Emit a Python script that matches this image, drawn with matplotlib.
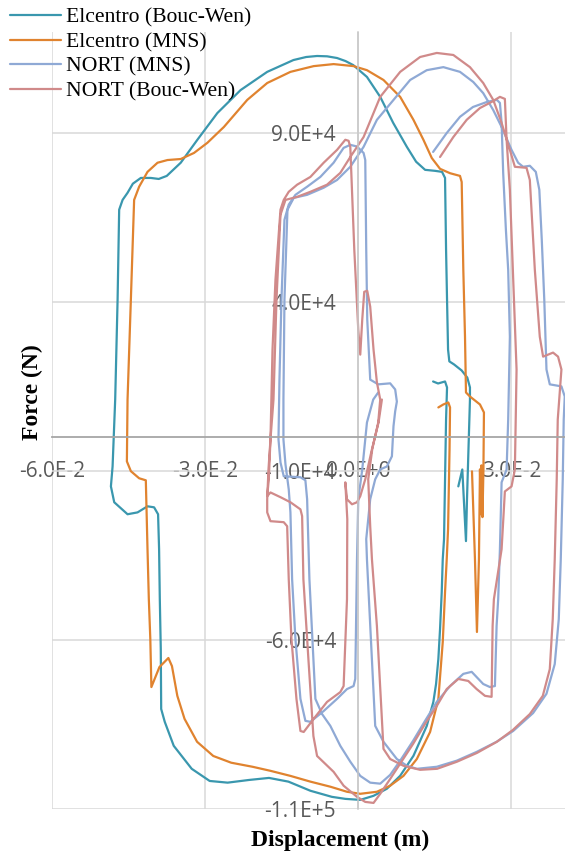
import numpy as np
import matplotlib.pyplot as plt

# hysteresis loops, displacement in mm and force in kN (converted when plotted)
elcentro_bw = [
    (14.66, 16.55), (15.63, 15.96), (17.0, 16.55), (17.39, 14.78), (17.2, 5.32),
    (17.0, -12.41), (16.8, -30.14), (16.55, -36.05), (16.35, -45.8), (16.02, -56.74),
    (15.69, -65.6), (15.24, -72.99), (14.71, -78.31), (13.42, -85.4), (10.81, -94.26),
    (8.21, -100.17), (5.61, -104.0), (2.99, -106.1), (0.39, -107.3), (-2.54, -107.0),
    (-5.18, -106.4), (-9.38, -104.6), (-13.68, -101.9), (-17.49, -100.8), (-21.38, -101.4),
    (-25.6, -102.2), (-29.11, -101.7), (-32.63, -98.1), (-36.15, -91.3), (-37.91, -84.2),
    (-38.61, -80.4), (-38.69, -62.6), (-38.88, -47.9), (-39.02, -33.1), (-39.22, -22.75),
    (-40.0, -20.7), (-41.29, -20.4), (-43.24, -22.2), (-45.2, -22.75), (-47.81, -19.2),
    (-48.46, -14.5), (-48.13, -8.57), (-47.62, 11.23), (-47.15, 40.8), (-46.84, 67.4),
    (-46.17, 70.3), (-45.2, 72.4), (-44.16, 75.1), (-42.6, 76.8), (-40.64, 76.8),
    (-39.08, 76.5), (-37.52, 77.4), (-34.78, 81.3), (-31.52, 88.1), (-27.61, 96.0),
    (-23.06, 102.8), (-17.84, 108.2), (-12.7, 111.7), (-10.2, 112.6), (-8.07, 112.9),
    (-6.1, 112.8), (-4.16, 112.3), (-2.5, 111.4), (-0.98, 110.2), (1.7, 106.7),
    (4.3, 100.8), (6.84, 93.1), (9.52, 86.0), (11.33, 81.6), (13.09, 79.2),
    (15.05, 78.9), (16.41, 78.6), (17.0, 76.8), (17.2, 55.6), (17.39, 40.8),
    (17.59, 26.0), (17.84, 22.5), (18.76, 21.6), (20.26, 19.8), (21.36, 17.7),
    (21.88, 14.8), (21.88, 11.2), (21.59, -3.5), (21.3, -18.3), (21.1, -30.7),
    (20.38, -9.5), (19.6, -14.5),
]

elcentro_mns = [
    (15.69, 8.87), (16.67, 9.75), (17.64, 10.34), (17.98, 8.87), (17.88, -3.55),
    (17.59, -27.19), (17.33, -36.05), (17.0, -45.8), (16.55, -60.6), (15.69, -77.4),
    (14.07, -87.2), (11.47, -95.2), (8.85, -100.2), (6.25, -103.1), (3.65, -104.9),
    (0.39, -105.5), (-2.21, -104.9), (-5.47, -103.4), (-9.38, -101.9), (-13.29, -100.2),
    (-17.2, -98.7), (-20.71, -97.5), (-24.89, -96.3), (-28.41, -94.3), (-31.58, -90.1),
    (-34.04, -83.3), (-35.45, -76.5), (-36.5, -67.7), (-37.2, -65.3), (-38.96, -68.0),
    (-40.53, -73.9), (-40.74, -59.7), (-41.03, -47.9), (-41.29, -33.1), (-41.62, -12.7),
    (-42.93, -12.1), (-44.55, -10.0), (-45.33, -7.1), (-45.2, 11.2), (-44.55, 40.8),
    (-43.91, 70.3), (-42.93, 74.2), (-41.29, 78.6), (-39.33, 81.3), (-37.38, 82.1),
    (-34.78, 82.4), (-32.18, 84.2), (-29.56, 87.2), (-26.32, 91.9), (-21.75, 99.9),
    (-17.84, 104.9), (-13.29, 108.2), (-8.73, 109.9), (-4.83, 110.5), (-0.92, 109.9),
    (1.7, 108.7), (4.94, 105.8), (8.21, 100.8), (10.81, 94.0), (12.76, 88.1),
    (14.4, 82.7), (16.02, 79.5), (17.98, 78.2), (19.93, 77.4), (20.26, 75.6),
    (20.58, 49.6), (20.91, 29.8), (21.1, 13.3), (21.88, 12.1), (23.84, 9.75),
    (24.62, 7.39), (24.52, -9.46), (24.33, -23.6), (24.13, -8.27), (24.03, -22.75),
    (23.84, -9.46), (23.64, -36.05), (23.25, -57.6), (22.86, -36.05), (22.28, -10.05),
]

nort_mns = [
    (14.66, 84.5), (17.33, 90.1), (19.93, 94.9), (22.47, 97.8), (25.21, 99.3),
    (27.16, 99.9), (27.75, 99.0), (28.08, 93.1), (28.39, 78.3), (28.92, 61.5),
    (29.37, 49.6), (29.7, 29.8), (29.37, 5.3), (29.06, -9.5), (28.08, -13.3),
    (27.75, -33.1), (27.41, -47.9), (27.1, -55.8), (26.77, -73.6), (25.79, -73.9),
    (24.48, -73.0), (22.22, -69.4), (20.58, -70.0), (17.98, -73.6), (15.38, -78.3),
    (13.09, -83.9), (10.75, -89.8), (8.21, -95.7), (6.25, -99.9), (4.3, -102.5),
    (2.34, -102.2), (0.39, -100.2), (-1.56, -96.0), (-3.52, -91.3), (-5.47, -85.4),
    (-7.09, -81.9), (-8.4, -77.4), (-8.99, -59.7), (-9.57, -42.0), (-10.02, -18.3),
    (-10.36, -12.7), (-11.33, -11.8), (-14.6, -11.5), (-15.24, -7.4), (-15.63, -0.6),
    (-15.44, 17.1), (-15.05, 40.8), (-14.46, 64.4), (-13.62, 68.9), (-12.31, 71.8),
    (-10.02, 74.2), (-7.43, 77.1), (-4.83, 81.3), (-2.87, 85.7), (-1.56, 86.6),
    (-0.25, 86.1), (1.04, 84.2), (1.37, 82.1), (1.56, 55.6), (1.76, 34.9),
    (2.34, 17.1), (3.91, 15.7), (6.25, 16.0), (7.23, 14.2), (7.56, 10.6),
    (7.23, 7.7), (6.9, 3.3), (6.59, -5.6), (5.61, -8.6), (4.3, -9.5),
    (3.32, -12.4), (2.34, -18.3), (1.56, -30.1), (1.7, -36.1), (2.34, -55.8),
    (3.32, -85.4), (4.94, -90.1), (7.56, -95.2), (9.52, -97.2), (11.47, -98.1),
    (15.38, -97.5), (19.29, -95.7), (23.19, -93.1), (27.1, -90.1), (30.35, -86.9),
    (34.25, -81.6), (36.87, -75.9), (38.49, -67.1), (39.28, -53.8), (39.67, -36.1),
    (40.06, -12.4), (40.25, 5.3), (40.45, 12.1), (39.8, 15.1), (37.52, 15.7),
    (36.87, 20.1), (36.44, 40.8), (35.95, 58.5), (35.47, 73.3), (34.78, 78.6),
    (33.61, 80.4), (32.3, 80.1), (31.32, 81.3), (30.03, 85.1), (28.08, 91.9),
    (26.44, 96.9), (24.48, 101.9), (22.53, 105.2), (19.93, 108.2), (16.67, 109.6),
    (13.42, 108.7), (10.16, 105.8), (6.9, 99.9), (3.65, 94.0), (1.04, 86.0),
    (-1.56, 80.1), (-4.16, 76.2), (-6.78, 73.9), (-10.02, 71.8), (-12.64, 70.9),
    (-13.87, 67.4), (-14.46, 40.8), (-14.66, 11.2), (-14.66, -0.6), (-14.26, -8.0),
    (-13.62, -15.4), (-13.29, -22.2), (-12.96, -42.0), (-12.31, -59.7), (-11.33, -77.4),
    (-10.36, -83.9), (-9.38, -84.2), (-6.78, -81.0), (-4.16, -77.4), (-2.21, -74.5),
    (-0.92, -73.6), (-0.59, -71.5), (-0.25, -36.1), (0.0, -18.3), (0.78, -9.5),
    (1.7, 4.4), (2.93, 11.2), (3.91, 13.3),
]

nort_bw = [
    (16.02, 83.0), (18.62, 88.9), (21.24, 94.0), (23.84, 97.5), (26.12, 99.3),
    (27.75, 100.8), (28.72, 100.2), (29.06, 88.1), (29.7, 73.3), (30.35, 46.7),
    (31.01, 20.1), (30.68, -9.5), (30.03, -14.5), (28.72, -16.0), (28.08, -33.1),
    (26.57, -47.9), (26.32, -55.8), (26.12, -76.8), (24.82, -76.5), (23.19, -74.5),
    (21.55, -72.1), (19.6, -71.5), (17.33, -74.5), (15.38, -79.5), (13.09, -84.8),
    (10.75, -90.7), (8.21, -96.6), (6.25, -101.1), (4.3, -105.5), (2.99, -108.2),
    (1.37, -107.9), (-0.25, -106.4), (-2.87, -103.1), (-4.83, -99.0), (-8.07, -94.3),
    (-8.79, -88.4), (-9.77, -65.6), (-10.75, -42.0), (-11.0, -23.3), (-11.33, -21.3),
    (-13.29, -19.2), (-15.24, -17.7), (-17.2, -16.3), (-17.84, -17.4), (-17.53, -12.4),
    (-17.2, -0.6), (-16.8, 26.0), (-16.22, 46.7), (-15.24, 67.4), (-14.6, 70.3),
    (-13.62, 72.7), (-11.98, 74.8), (-9.38, 77.1), (-6.78, 81.3), (-4.16, 85.1),
    (-2.54, 88.1), (-1.9, 87.8), (-1.56, 86.0), (-0.78, 55.6), (0.0, 31.9),
    (0.39, 24.5), (0.78, 34.9), (1.17, 43.1), (1.76, 43.4), (2.34, 38.7),
    (2.99, 26.0), (3.65, 16.3), (4.3, 11.2), (3.91, 4.4), (2.74, -3.5),
    (1.95, -12.4), (2.34, -26.3), (2.68, -36.1), (3.65, -55.8), (4.94, -92.2),
    (6.25, -95.2), (8.85, -97.2), (12.11, -98.4), (15.44, -98.1), (19.34, -96.0),
    (23.25, -93.4), (27.16, -90.1), (30.29, -86.6), (33.61, -81.9), (36.15, -76.5),
    (37.52, -68.6), (38.1, -53.8), (38.49, -36.1), (38.88, -12.4), (39.08, 5.3),
    (39.8, 20.1), (39.14, 23.9), (38.16, 25.1), (36.21, 23.9), (35.56, 29.8),
    (34.59, 49.6), (33.61, 76.2), (32.96, 79.8), (30.68, 80.1), (29.7, 85.1),
    (28.08, 93.1), (26.44, 99.9), (24.48, 104.9), (21.88, 109.6), (18.62, 113.2),
    (15.38, 113.8), (12.11, 112.6), (8.21, 108.2), (4.3, 100.8), (1.04, 88.9),
    (-1.56, 83.0), (-3.52, 78.3), (-6.12, 74.8), (-9.38, 72.7), (-11.98, 71.2),
    (-14.26, 70.3), (-15.24, 65.9), (-16.02, 40.8), (-16.61, 11.2), (-17.2, -0.6),
    (-17.59, -9.5), (-17.84, -18.3), (-17.84, -22.2), (-17.2, -24.8), (-14.6, -25.1),
    (-13.93, -26.3), (-13.62, -42.0), (-13.09, -59.7), (-12.11, -77.4), (-11.33, -86.9),
    (-10.69, -87.2), (-8.73, -83.3), (-6.12, -78.3), (-3.52, -75.4), (-2.87, -73.6),
    (-2.21, -47.9), (-2.15, -24.2), (-2.54, -13.3), (-2.21, -18.3), (-1.23, -19.8),
    (-0.25, -19.2), (0.39, -17.4), (1.37, -12.4), (2.68, -3.5), (3.97, 4.4),
    (4.63, 11.2),
]

series = [
    ('Elcentro (Bouc-Wen)', elcentro_bw, '#3A97AE'),
    ('Elcentro (MNS)', elcentro_mns, '#E0832F'),
    ('NORT (MNS)', nort_mns, '#8FA9D5'),
    ('NORT (Bouc-Wen)', nort_bw, '#D08A8A'),
]

x_ticks = [-0.06, -0.03, 0.0, 0.03]
y_ticks = [-110000, -60000, -10000, 40000, 90000]


def excel_sci(v, pos=None):
    mant, exp = f'{v:.1E}'.split('E')
    return f'{mant}E{exp[0]}{int(exp[1:])}'


fig = plt.figure(figsize=(5.65, 8.58), dpi=100)
ax = fig.add_axes([52 / 565, 49 / 858, 1 - 52 / 565, (858 - 32 - 49) / 858])

for name, pts, col in series:
    d, f = zip(*pts)
    ax.plot(np.array(d) / 1000, np.array(f) * 1000, color=col, lw=1.6,
            label=name, solid_joinstyle='round', solid_capstyle='round')

ax.set_xlim(-0.06, 0.0405)
ax.set_ylim(-110000, 120000)
ax.set_xticks(x_ticks)
ax.set_yticks(y_ticks)
ax.xaxis.set_major_formatter(plt.FuncFormatter(excel_sci))
ax.yaxis.set_major_formatter(plt.FuncFormatter(excel_sci))
ax.grid(True, color='#D9D9D9', lw=1.1, zorder=0)
ax.set_axisbelow(True)

for s in ['top', 'right']:
    ax.spines[s].set_visible(False)
ax.spines['left'].set_position(('data', 0))
ax.spines['bottom'].set_position(('data', 0))
ax.spines['left'].set_color('#C8C8C8')
ax.spines['bottom'].set_color('#A6A6A6')
ax.spines['left'].set_linewidth(1.1)
ax.spines['bottom'].set_linewidth(1.3)
ax.tick_params(length=0, labelsize=15, labelcolor='#595959')
ax.tick_params(axis='x', pad=17)
ax.tick_params(axis='y', pad=16)
for lab in ax.get_xticklabels() + ax.get_yticklabels():
    lab.set_fontfamily('Open Sans')

fig.text(340 / 565, 1 - 840 / 858, 'Displacement (m)', ha='center', va='center',
         family='Liberation Serif', weight='bold', fontsize=17)
fig.text(32 / 565, 1 - 392 / 858, 'Force (N)', ha='center', va='center', rotation=90,
         family='Liberation Serif', weight='bold', fontsize=17)

fig.legend(loc='upper left', bbox_to_anchor=(0.0175, 0.991), frameon=False,
           prop={'family': 'Liberation Serif', 'size': 15.6}, handlelength=2.35,
           handletextpad=0.25, labelspacing=0.2, borderpad=0, borderaxespad=0)

fig.savefig('out.png', dpi=100)
